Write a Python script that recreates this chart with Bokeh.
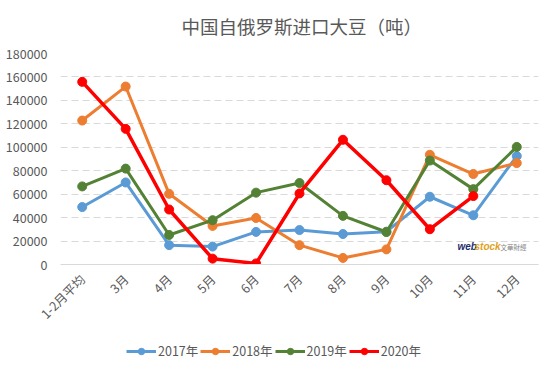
from bokeh.plotting import figure
from bokeh.layouts import column
from bokeh.models import FactorRange, Range1d, FixedTicker, BasicTickFormatter, Legend, LegendItem, Label
from bokeh.embed import file_html
from bokeh.resources import INLINE
import math

months = ["1-2月平均", "3月", "4月", "5月", "6月", "7月", "8月", "9月", "10月", "11月", "12月"]
y2017 = [49000, 70000, 16500, 15300, 27800, 29400, 26000, 28000, 57800, 42000, 92500]
y2018 = [122800, 151800, 60300, 32900, 39700, 16500, 5600, 12900, 93600, 77200, 86500]
y2019 = [66600, 81800, 25200, 37800, 61300, 69500, 41500, 27700, 88700, 64300, 100300]
months_2020 = months[:10]
y2020 = [155800, 115700, 46900, 5000, 900, 60600, 106400, 71900, 30100, 58400]
series_names = ["2017年", "2018年", "2019年", "2020年"]
y_ticks = list(range(0, 180001, 20000))
title_text = "中国自俄罗斯进口大豆（吨）"

FONT = "Noto Sans CJK SC"
GRAY = "#595959"

# title strip
ts = figure(width=555, height=43, x_range=Range1d(0, 1), y_range=Range1d(0, 1),
            output_backend="svg", toolbar_location=None,
            x_axis_location=None, y_axis_location=None,
            min_border_left=60, min_border_right=17, min_border_top=0, min_border_bottom=0)
ts.outline_line_color = None
ts.grid.visible = False
ts.border_fill_color = "white"
ts.add_layout(Label(x=121, y=18, x_units="screen", y_units="screen", text=title_text,
                    text_font=FONT, text_font_size="18.5px", text_color=GRAY,
                    text_baseline="middle", text_align="left"))

p = figure(width=555, height=289, x_range=FactorRange(*months), y_range=Range1d(0, 180000),
           output_backend="svg", toolbar_location=None,
           min_border_left=60, min_border_right=17, min_border_top=10, min_border_bottom=66)
p.outline_line_color = None
p.background_fill_color = "white"
p.border_fill_color = "white"

# y axis
p.yaxis.ticker = FixedTicker(ticks=y_ticks)
p.yaxis.formatter = BasicTickFormatter(use_scientific=False)
p.yaxis.axis_line_color = None
p.yaxis.major_tick_line_color = None
p.yaxis.minor_tick_line_color = None
p.yaxis.major_label_text_font = FONT
p.yaxis.major_label_text_font_size = "12.5px"
p.yaxis.major_label_text_color = GRAY
p.yaxis.major_label_standoff = 7

# x axis
p.xaxis.axis_line_color = "#d9d9d9"
p.xaxis.axis_line_width = 1
p.xaxis.major_tick_line_color = None
p.xaxis.minor_tick_line_color = None
p.xaxis.major_label_orientation = math.pi / 4
p.xaxis.major_label_text_font = FONT
p.xaxis.major_label_text_font_size = "12.5px"
p.xaxis.major_label_text_color = GRAY
p.xaxis.major_label_standoff = 6

p.xgrid.grid_line_color = None
p.ygrid.grid_line_color = "#d9d9d9"
p.ygrid.grid_line_dash = "7 4"
p.ygrid.grid_line_width = 1

colors = ["#5B9BD5", "#ED7D31", "#548235", "#FF0000"]
data = [(months, y2017), (months, y2018), (months, y2019), (months_2020, y2020)]
widths = [3, 3, 3, 3.5]
for name, (xs, ys), c, w in zip(series_names, data, colors, widths):
    p.line(xs, ys, line_color=c, line_width=w)
    p.scatter(xs, ys, marker="circle", size=9, fill_color=c, line_color=c)

# watermark
p.add_layout(Label(x=397, y=13, x_units="screen", y_units="screen", text="web",
                   text_font="Liberation Sans", text_font_style="bold italic", text_font_size="10px",
                   text_color="#1f2f6b"))
p.add_layout(Label(x=414, y=13, x_units="screen", y_units="screen", text="stock",
                   text_font="Liberation Sans", text_font_style="bold italic", text_font_size="10px",
                   text_color="#e0a020"))
p.add_layout(Label(x=440, y=13, x_units="screen", y_units="screen", text="文華財經",
                   text_font=FONT, text_font_size="6.5px", text_color="#888888"))

# legend strip below (its frame shows a y window away from the data, so only the legend is seen)
lg = figure(width=555, height=38, x_range=p.x_range, y_range=Range1d(-400000, -300000),
            output_backend="svg", toolbar_location=None,
            x_axis_location=None, y_axis_location=None,
            min_border_left=60, min_border_right=17, min_border_top=0, min_border_bottom=0)
lg.outline_line_color = None
lg.grid.visible = False
lg.border_fill_color = "white"
items = []
for name, (xs, ys), c, w in zip(series_names, data, colors, widths):
    r1 = lg.line(xs, ys, line_color=c, line_width=3)
    r2 = lg.scatter(xs, ys, marker="circle", size=7, fill_color=c, line_color=c)
    items.append(LegendItem(label=name, renderers=[r1, r2]))
legend = Legend(items=items, orientation="horizontal", location=(66, 10),
                label_text_font=FONT, label_text_font_size="12.5px", label_text_color=GRAY,
                glyph_width=30, glyph_height=16, label_standoff=2, spacing=2,
                padding=2, margin=0, border_line_color=None, background_fill_alpha=0)
lg.add_layout(legend, "center")

layout = column(ts, p, lg, spacing=0)
open("out.html", "w").write(file_html(layout, INLINE))
